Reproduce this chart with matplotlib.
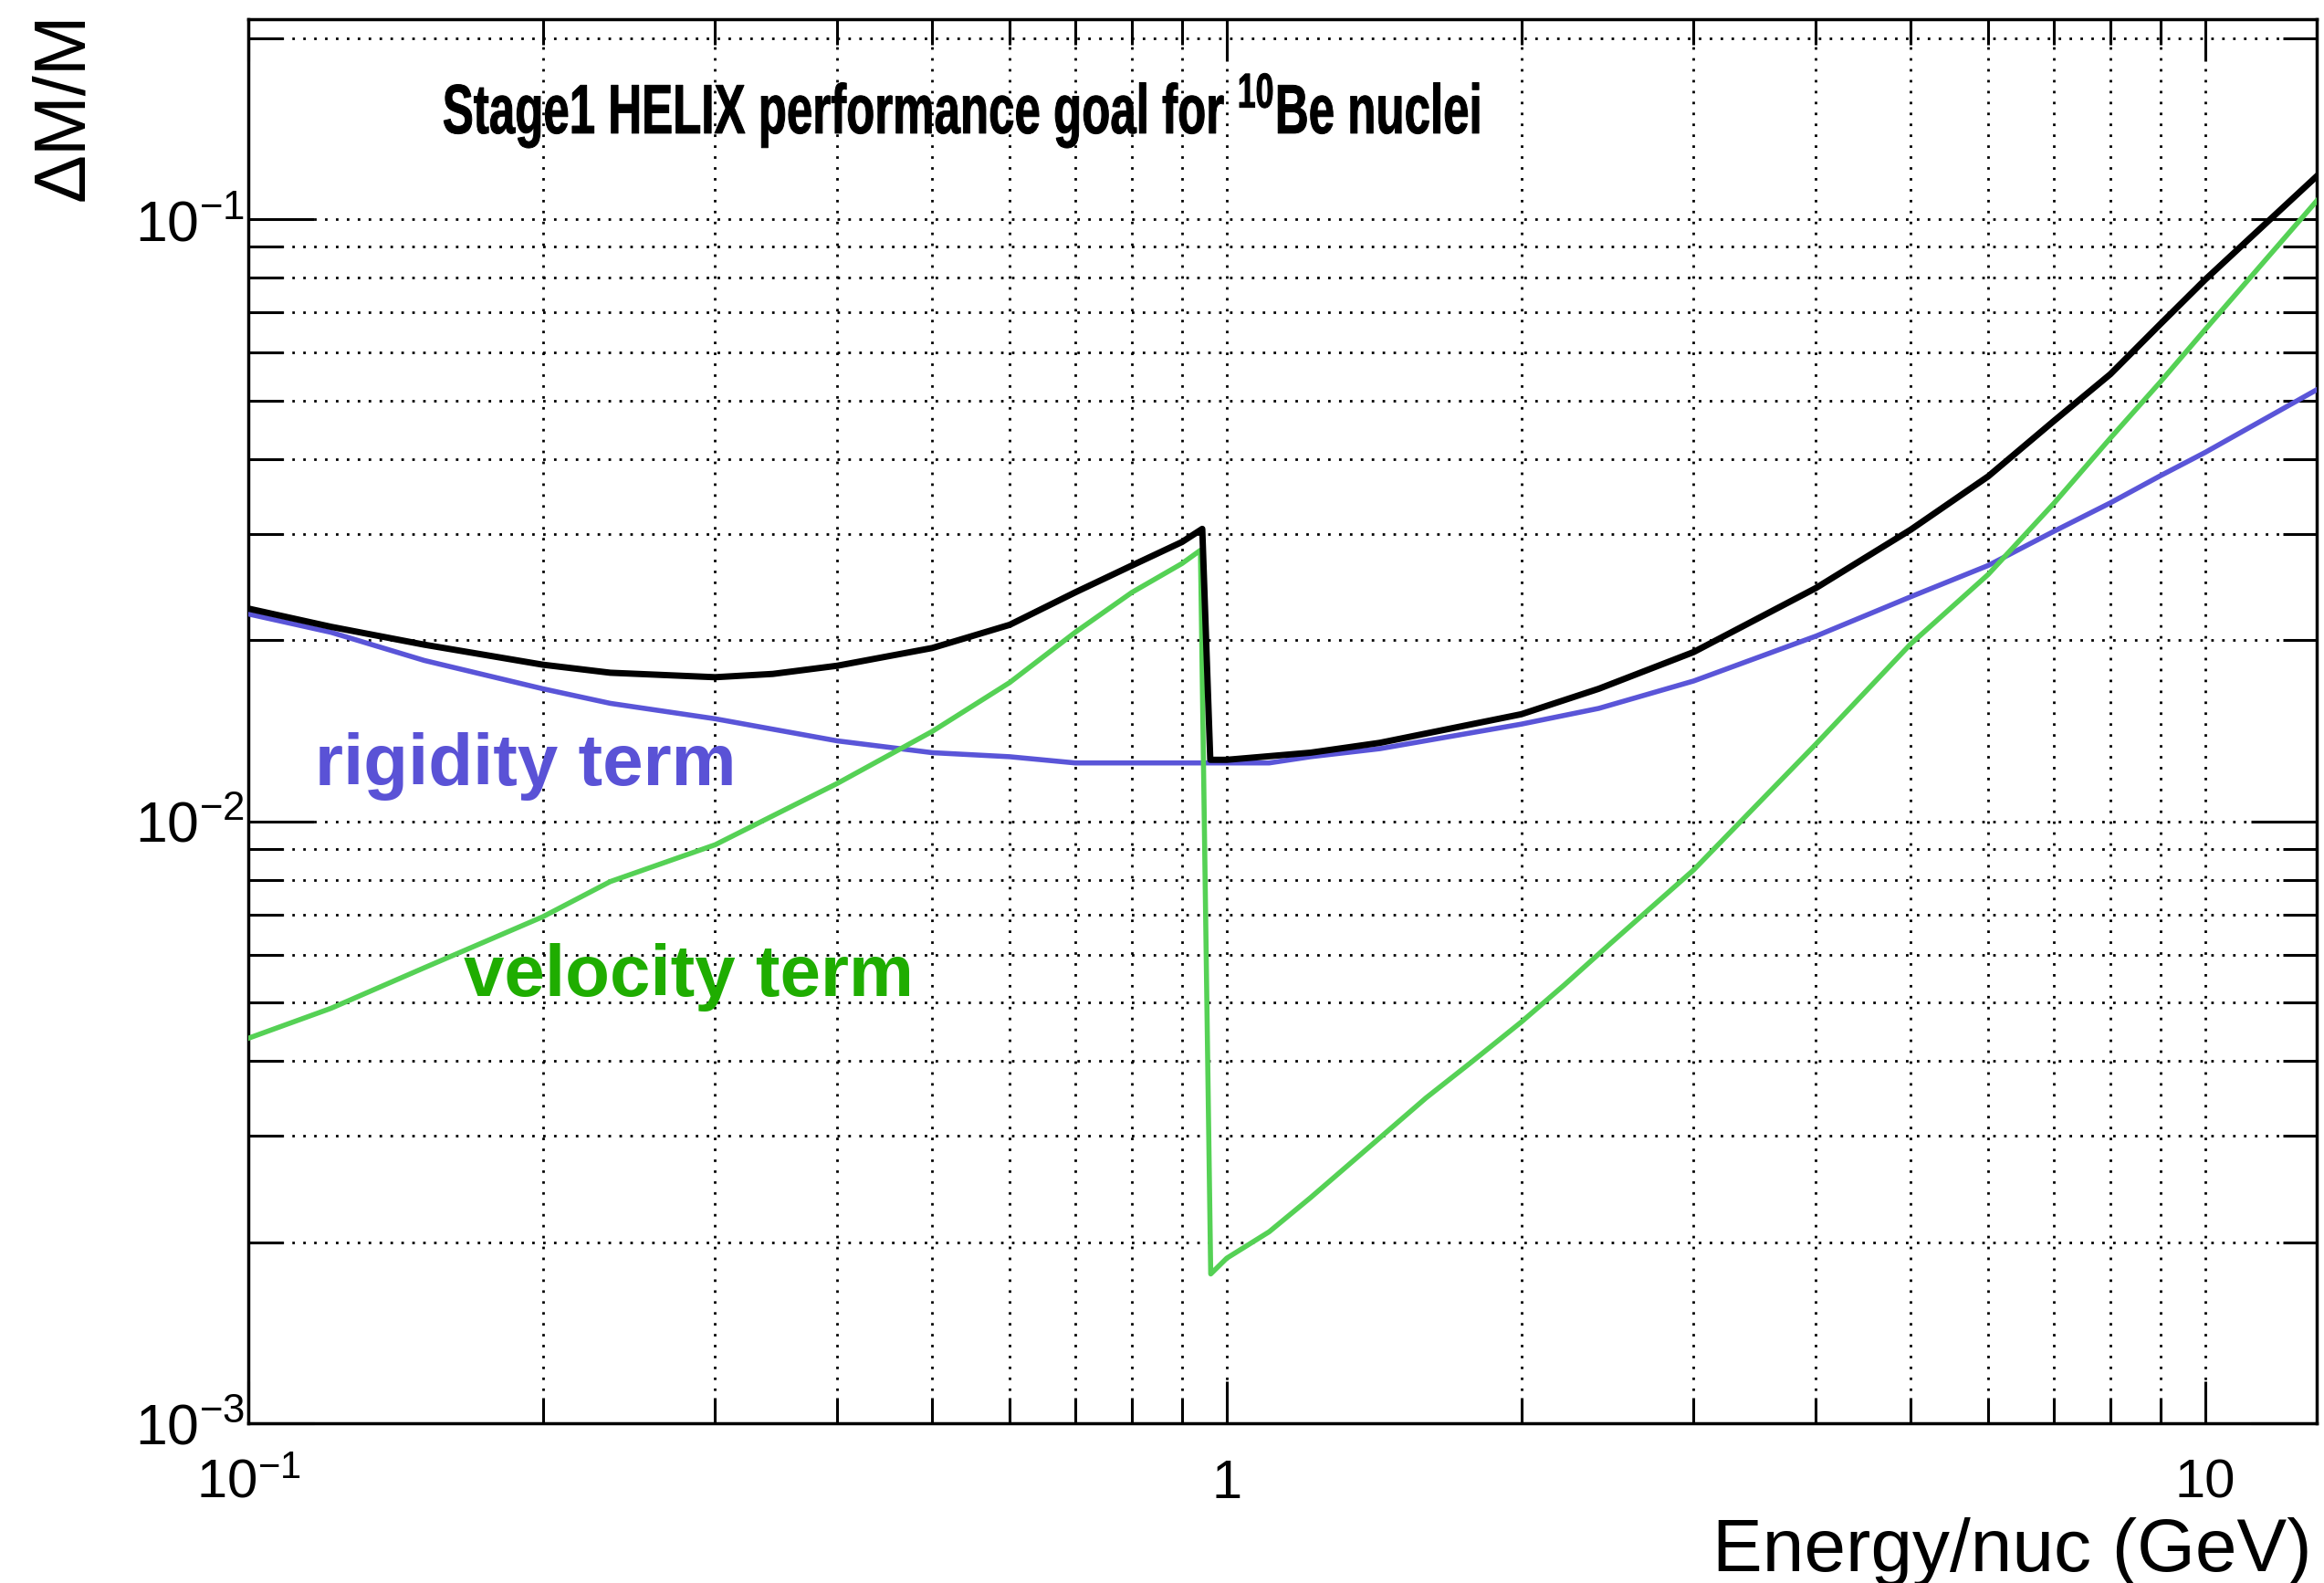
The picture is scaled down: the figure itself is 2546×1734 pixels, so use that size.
import matplotlib
matplotlib.use("Agg")
import matplotlib.pyplot as plt
from matplotlib.ticker import FixedLocator, NullFormatter, FixedFormatter
from matplotlib.patheffects import AbstractPathEffect
from matplotlib.transforms import Affine2D

plt.rcParams["font.family"] = ["Liberation Sans", "DejaVu Sans"]
plt.rcParams["mathtext.fontset"] = "custom"
plt.rcParams["mathtext.rm"] = "Liberation Sans"
plt.rcParams["mathtext.it"] = "Liberation Sans:italic"
plt.rcParams["mathtext.bf"] = "Liberation Sans:bold"

# Energy per nucleon (GeV) and the mass-resolution contributions
rigidity_energy = [0.1, 0.1215, 0.1513, 0.2, 0.2344, 0.3, 0.4, 0.5, 0.6, 0.7,
                   0.8, 1.0, 1.105, 1.218, 1.434, 2.0, 2.4, 3, 4, 5, 6, 7, 8,
                   9, 10, 13]
rigidity_term = [0.0221, 0.0206, 0.0185, 0.0166, 0.0157, 0.0148, 0.0136,
                 0.0130, 0.0128, 0.0125, 0.0125, 0.0125, 0.0125, 0.0128,
                 0.0132, 0.0145, 0.0154, 0.0171, 0.0203, 0.0236, 0.0266,
                 0.0303, 0.0338, 0.0375, 0.0410, 0.0521]

velocity_energy = [0.1, 0.1215, 0.1513, 0.2, 0.2344, 0.3, 0.4, 0.5, 0.6, 0.7,
                   0.8, 0.9, 0.94, 0.963, 1.0, 1.105, 1.218, 1.434, 1.598,
                   1.782, 2.0, 2.214, 2.468, 3, 4, 5, 6, 7, 8, 9, 10, 13]
velocity_term = [0.00436, 0.00489, 0.00571, 0.00694, 0.00794, 0.00914,
                 0.01156, 0.0141, 0.0170, 0.0206, 0.0240, 0.0268, 0.0282,
                 0.00177, 0.00188, 0.00208, 0.00237, 0.00298, 0.00347,
                 0.00399, 0.00464, 0.00535, 0.00627, 0.0083, 0.01343, 0.0197,
                 0.0257, 0.0337, 0.0433, 0.0537, 0.0656, 0.1073]

total_energy = [0.1, 0.1215, 0.1513, 0.2, 0.2344, 0.3, 0.3436, 0.4, 0.5, 0.6,
                0.7, 0.8, 0.9, 0.944, 0.962, 1.0, 1.218, 1.434, 2.0, 2.4, 3,
                4, 5, 6, 7, 8, 9, 10, 13]
total_resolution = [0.02256, 0.02104, 0.01965, 0.0182, 0.01765, 0.01735,
                    0.01757, 0.01813, 0.0194, 0.0212, 0.0240, 0.0266, 0.0291,
                    0.0306, 0.01265, 0.01265, 0.0130, 0.0135, 0.01506, 0.0166,
                    0.0191, 0.0244, 0.0305, 0.0374, 0.0462, 0.0553, 0.0670,
                    0.0794, 0.1179]

x_major_ticks = [0.1, 1, 10]
x_major_labels = ["$10^{-1}$", "1", "10"]
y_major_ticks = [1e-3, 1e-2, 1e-1]
y_major_labels = ["$10^{-3}$", "$10^{-2}$", "$10^{-1}$"]
x_minor_ticks = [m * d for d in (0.1, 1.0, 10.0) for m in range(2, 10)
                 if m * d < 13]
y_minor_ticks = [m * d for d in (1e-3, 1e-2, 1e-1) for m in range(2, 10)
                 if m * d < 0.215]

title_text = r"Stage1 HELIX performance goal for $^{\mathbf{10}}$Be nuclei"


class HorizontalSqueeze(AbstractPathEffect):
    """Draw glyph outlines narrowed horizontally about a fixed pixel column,
    with a thin outline of the same colour to make the strokes heavier."""

    def __init__(self, factor, center_px, outline=0.7):
        super().__init__()
        self.factor = factor
        self.center_px = center_px
        self.outline = outline

    def draw_path(self, renderer, gc, tpath, affine, rgbFace=None):
        squeeze = (Affine2D().translate(-self.center_px, 0)
                   .scale(self.factor, 1).translate(self.center_px, 0))
        gc0 = renderer.new_gc()
        gc0.copy_properties(gc)
        gc0.set_linewidth(self.outline)
        if rgbFace is not None:
            gc0.set_foreground(rgbFace)
        renderer.draw_path(gc0, tpath, affine + squeeze, rgbFace)
        gc0.restore()


W, H = 2546, 1734
fig = plt.figure(figsize=(W / 100, H / 100), dpi=100)
ax = fig.add_axes([272 / W, (H - 1559) / H, (2538 - 272) / W,
                   (1559 - 21) / H])
ax.set_xscale("log")
ax.set_yscale("log")
ax.set_xlim(0.1, 13)
ax.set_ylim(1e-3, 0.215)

ax.plot(rigidity_energy, rigidity_term, color="#5a55d8", lw=4.0, zorder=3)
ax.plot(velocity_energy, velocity_term, color="#55d155", lw=4.0, zorder=4)
ax.plot(total_energy, total_resolution, color="black", lw=5.0, zorder=5)

ax.xaxis.set_major_locator(FixedLocator(x_major_ticks))
ax.xaxis.set_major_formatter(FixedFormatter(x_major_labels))
ax.xaxis.set_minor_locator(FixedLocator(x_minor_ticks))
ax.xaxis.set_minor_formatter(NullFormatter())
ax.yaxis.set_major_locator(FixedLocator(y_major_ticks))
ax.yaxis.set_major_formatter(FixedFormatter(y_major_labels))
ax.yaxis.set_minor_locator(FixedLocator(y_minor_ticks))
ax.yaxis.set_minor_formatter(NullFormatter())

ax.grid(which="both", color="black", linestyle=(0, (1, 3.3)), lw=2.0)
ax.set_axisbelow(True)

ax.tick_params(axis="both", which="both", direction="in", top=True,
               right=True, width=2.2, colors="black")
ax.tick_params(axis="x", which="major", length=33, labelsize=43, pad=28)
ax.tick_params(axis="x", which="minor", length=20)
ax.tick_params(axis="y", which="major", length=52, labelsize=45, pad=3)
ax.tick_params(axis="y", which="minor", length=27)
for sp in ax.spines.values():
    sp.set_linewidth(2.5)

ax.text(0.117, 0.01148, "rigidity term", color="#5a52d6", fontsize=57.5,
        fontweight="bold", ha="left", va="baseline", zorder=6)
ax.text(0.166, 0.00513, "velocity term", color="#1fad00", fontsize=57.5,
        fontweight="bold", ha="left", va="baseline", zorder=6)

title_x = 1053
fig.text(title_x / W, 1 - 146 / H, title_text, fontsize=55,
         fontweight="bold", ha="center", va="baseline",
         path_effects=[HorizontalSqueeze(0.668, title_x)])

fig.text(2533 / W, 1 - 1721 / H, "Energy/nuc (GeV)", fontsize=59,
         ha="right", va="baseline")
fig.text(71 / W, 1 - 13 / H, "\u0394M/M", fontsize=57, rotation=90,
         ha="center", va="top")

fig.savefig("out.png", dpi=100, facecolor="white")
